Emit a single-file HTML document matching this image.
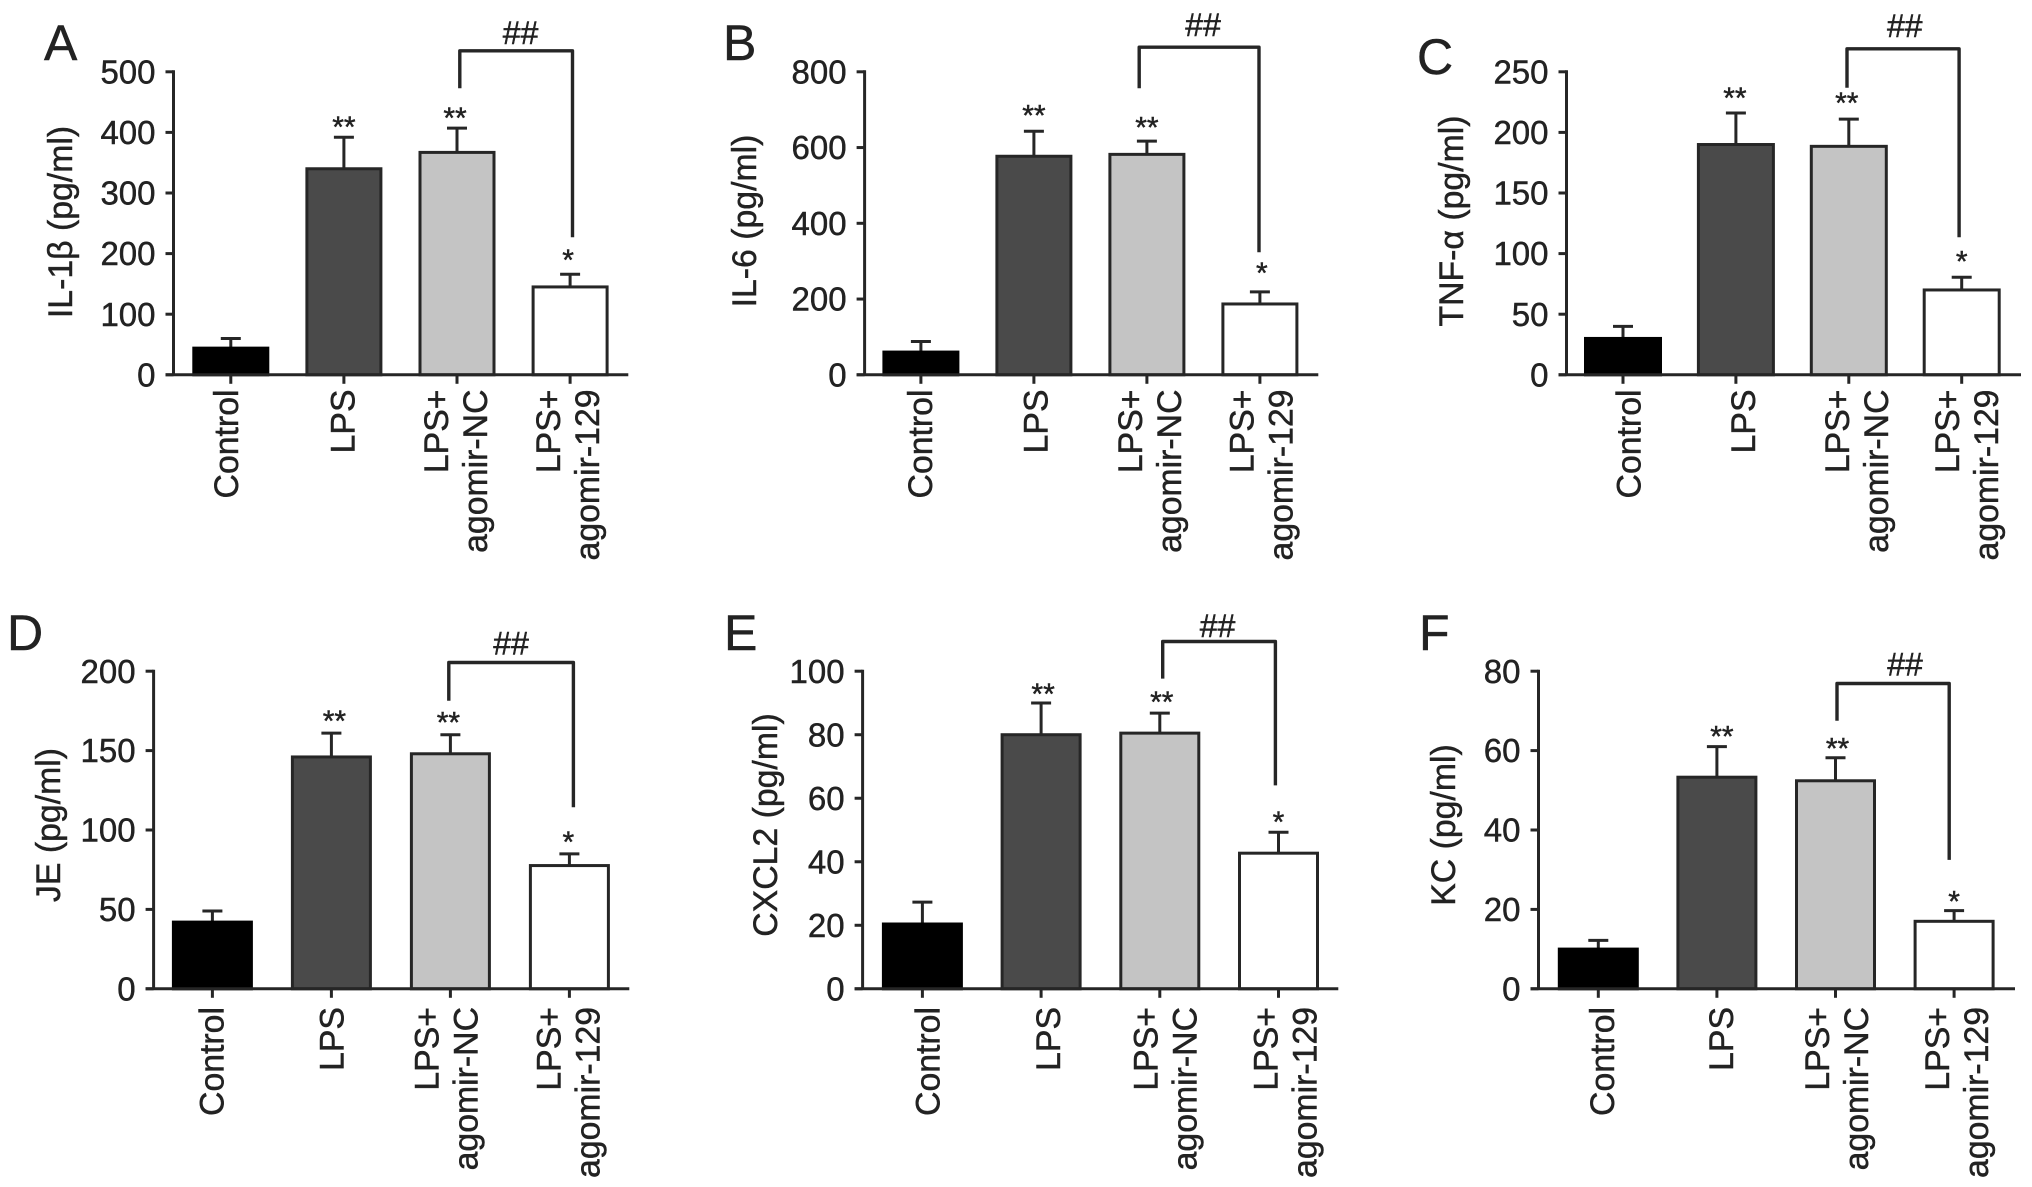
<!DOCTYPE html>
<html lang="en">
<head>
<meta charset="utf-8">
<title>Cytokine bar charts, panels A to F</title>
<style>
  html, body { margin: 0; padding: 0; background: #fff; }
  #figure { display: block; width: 2032px; height: 1187px; font-family: "Liberation Sans", sans-serif; }
  #figure text { fill: #222; stroke: #222; stroke-width: 0.45px; font-family: "Liberation Sans", sans-serif; }
</style>
</head>
<body>
<svg id="figure" xmlns="http://www.w3.org/2000/svg" width="2032" height="1187" viewBox="0 0 2032 1187">
  <rect x="0" y="0" width="2032" height="1187" fill="#fff"/>
</svg>
<script>
// Shared category labels (one inner array per text line)
const categories = [["Control"], ["LPS"], ["LPS+", "agomir-NC"], ["LPS+", "agomir-129"]];
const significance = ["", "**", "**", "*"];

// Panel A: IL-1β
const valuesA = [44, 340, 367, 145];
const upperA = [60, 392, 407, 166];
const ticksA = [0, 100, 200, 300, 400, 500];

// Panel B: IL-6
const valuesB = [60, 577, 582, 187];
const upperB = [88, 643, 617, 219];
const ticksB = [0, 200, 400, 600, 800];

// Panel C: TNF-α
const valuesC = [30, 190, 188.5, 70];
const upperC = [40, 216, 211, 80.5];
const ticksC = [0, 50, 100, 150, 200, 250];

// Panel D: JE
const valuesD = [42, 146, 148, 77.6];
const upperD = [49, 161, 160, 85];
const ticksD = [0, 50, 100, 150, 200];

// Panel E: CXCL2
const valuesE = [20.4, 80, 80.5, 42.7];
const upperE = [27.3, 90, 86.8, 49.3];
const ticksE = [0, 20, 40, 60, 80, 100];

// Panel F: KC
const valuesF = [10, 53.3, 52.4, 17];
const upperF = [12.2, 61, 58.2, 19.7];
const ticksF = [0, 20, 40, 60, 80];

const barFills = ["#000", "#4a4a4a", "#c4c4c4", "#fff"];
const barNames = ["control", "lps", "lps-agomir-nc", "lps-agomir-129"];

const panels = [
  { id: "a", letter: "A", letterX: 44, letterY: 60, title: "IL-1β (pg/ml)", titleX: 72, titleY: 222,
    values: valuesA, upper: upperA, ticks: ticksA,
    axisX: 173.5, axisEnd: 628.3, top: 71.8, base: 374.8, first: 230.8, step: 113.1, barW: 77, labelTop: 389.5,
    labelNudge: [-4, -0.6, 0, -1.3], starGap: [14, 14, 18], starShift: [0, -2, -2],
    bracket: { left: 459.8, right: 572.5, top: 50.8, leftEnd: 88.2, rightEnd: 237.3, textX: 520.6, textY: 32.9 } },
  { id: "b", letter: "B", letterX: 723, letterY: 60, title: "IL-6 (pg/ml)", titleX: 756, titleY: 221,
    values: valuesB, upper: upperB, ticks: ticksB,
    axisX: 864.6, axisEnd: 1318.3, top: 71.8, base: 374.8, first: 920.9, step: 113, barW: 77, labelTop: 389.5,
    labelNudge: [0, 2.6, 4, 2.6], starGap: [20, 17.5, 23], starShift: [0, 0, 2],
    bracket: { left: 1139.2, right: 1259, top: 47.2, leftEnd: 88.2, rightEnd: 252.2, textX: 1203.1, textY: 25 } },
  { id: "c", letter: "C", letterX: 1417, letterY: 74, title: "TNF-α (pg/ml)", titleX: 1463, titleY: 221,
    values: valuesC, upper: upperC, ticks: ticksC,
    axisX: 1566.5, axisEnd: 2021, top: 71.8, base: 374.8, first: 1623, step: 112.9, barW: 78, labelTop: 389.5,
    labelNudge: [6.5, 8, 9, 6.5], starGap: [19, 20, 19.5], starShift: [-1, -2, 0],
    bracket: { left: 1847, right: 1959.1, top: 48.8, leftEnd: 87.7, rightEnd: 237.3, textX: 1904.8, textY: 26 } },
  { id: "d", letter: "D", letterX: 7, letterY: 650, title: "JE (pg/ml)", titleX: 60, titleY: 825,
    values: valuesD, upper: upperD, ticks: ticksD,
    axisX: 153.6, axisEnd: 629.3, top: 671.2, base: 988.8, first: 212.4, step: 119, barW: 81, labelTop: 1007,
    labelNudge: [0, 1.3, -3, 0], starGap: [16, 16, 16], starShift: [3, -2, -1],
    bracket: { left: 448.8, right: 573.4, top: 662.5, leftEnd: 700.7, rightEnd: 807.3, textX: 511.1, textY: 643.4 } },
  { id: "e", letter: "E", letterX: 724, letterY: 650, title: "CXCL2 (pg/ml)", titleX: 777, titleY: 825,
    values: valuesE, upper: upperE, ticks: ticksE,
    axisX: 862.6, axisEnd: 1338.3, top: 671.2, base: 988.8, first: 922.4, step: 118.7, barW: 81, labelTop: 1007,
    labelNudge: [6, 8, 6.5, 8], starGap: [13, 15, 14], starShift: [2, 2, 0],
    bracket: { left: 1162.7, right: 1275.4, top: 641.5, leftEnd: 678.6, rightEnd: 785.4, textX: 1217.6, textY: 625.9 } },
  { id: "f", letter: "F", letterX: 1419, letterY: 650, title: "KC (pg/ml)", titleX: 1455, titleY: 825,
    values: valuesF, upper: upperF, ticks: ticksF,
    axisX: 1538.5, axisEnd: 2015, top: 671.2, base: 988.8, first: 1598.3, step: 118.6, barW: 81, labelTop: 1007,
    labelNudge: [4.5, 5, 2.6, 4], starGap: [14, 13, 13], starShift: [5, 2, 0],
    bracket: { left: 1837, right: 1949.2, top: 683.5, leftEnd: 720.7, rightEnd: 859.9, textX: 1905, textY: 664.5 } }
];

const svg = document.getElementById("figure");
const NS = "http://www.w3.org/2000/svg";
const STROKE = "#262626";
const LINE_W = 3;
const TICK_FONT = 33;
const LABEL_FONT = 33.8;

function make(tag, parent, attrs) {
  const node = document.createElementNS(NS, tag);
  Object.keys(attrs).forEach(function (k) { node.setAttribute(k, attrs[k]); });
  parent.appendChild(node);
  return node;
}
function line(parent, x1, y1, x2, y2, w) {
  return make("line", parent, { x1: x1, y1: y1, x2: x2, y2: y2, stroke: STROKE, "stroke-width": w || LINE_W });
}

panels.forEach(function (p) {
  const group = make("g", svg, {});
  
  

  const maxTick = p.ticks[p.ticks.length - 1];
  const yScale = function (v) { return p.base - (v / maxTick) * (p.base - p.top); };
  const xScale = function (i) { return p.first + i * p.step; };

  const letter = make("text", group, { x: p.letterX, y: p.letterY, "font-size": 50 });
  
  
  letter.textContent = p.letter;

  const yTitle = make("text", group, { x: p.titleX, y: p.titleY, "font-size": LABEL_FONT, "text-anchor": "middle",
    transform: "rotate(-90 " + p.titleX + " " + p.titleY + ")" });
  
  
  yTitle.textContent = p.title;

  // Bars and error bars
  p.values.forEach(function (v, i) {
    const cx = xScale(i);
    const topY = yScale(v);
    const capY = yScale(p.upper[i]);

    const errorStem = line(group, cx, capY, cx, topY);
    
    

    const errorCap = line(group, cx - 10, capY, cx + 10, capY);
    
    

    const bar = make("rect", group, {
      x: cx - (p.barW - LINE_W) / 2, y: topY,
      width: p.barW - LINE_W, height: p.base - topY,
      fill: barFills[i], stroke: i === 0 ? "#000" : STROKE, "stroke-width": LINE_W
    });
    
    
  });

  // Axes
  const yAxis = line(group, p.axisX, p.top - LINE_W / 2, p.axisX, p.base);
  
  

  const xAxis = line(group, p.axisX - 8, p.base, p.axisEnd, p.base);
  
  

  p.ticks.forEach(function (t) {
    const ty = yScale(t);
    const tick = line(group, p.axisX - 8, ty, p.axisX, ty);
    
    

    const tickLabel = make("text", group, { x: p.axisX - 18, y: ty + TICK_FONT * 0.35, "font-size": TICK_FONT, "text-anchor": "end" });
    
    
    tickLabel.textContent = t;
  });

  categories.forEach(function (lines, i) {
    const cx = xScale(i);
    const tick = line(group, cx, p.base, cx, p.base + 9);
    
    

    const offsets = lines.length === 1 ? [11] : [-9, 30];
    lines.forEach(function (txt, j) {
      const bx = cx + offsets[j] + p.labelNudge[i];
      const label = make("text", group, { x: bx, y: p.labelTop, "font-size": LABEL_FONT, "text-anchor": "end",
        transform: "rotate(-90 " + bx + " " + p.labelTop + ")" });
      
      
      label.textContent = txt;
    });
  });

  // Significance stars above error bars
  significance.forEach(function (s, i) {
    if (!s) return;
    const star = make("text", group, {
      x: xScale(i) + p.starShift[i - 1],
      y: yScale(p.upper[i]) - p.starGap[i - 1] + 14,
      "font-size": 30, "text-anchor": "middle"
    });
    
    
    star.textContent = s;
  });

  // Comparison bracket
  const b = p.bracket;
  const bracket = make("path", group, {
    d: "M" + b.left + " " + b.leftEnd + " V" + b.top + " H" + b.right + " V" + b.rightEnd,
    fill: "none", stroke: STROKE, "stroke-width": 3.4, "stroke-linejoin": "round"
  });
  
  

  const hash = make("text", group, { x: b.textX, y: b.textY + 11, "font-size": 32, "text-anchor": "middle" });
  
  
  hash.textContent = "##";
});
</script>
</body>
</html>
